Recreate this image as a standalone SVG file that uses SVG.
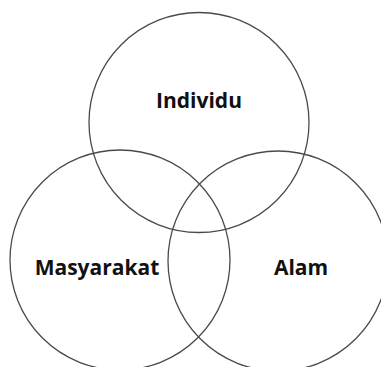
<svg xmlns="http://www.w3.org/2000/svg" width="381" height="367" viewBox="0 0 381 367">
<style>
.c{fill:none;stroke:#4a4a4a;stroke-width:1.3}
.t{font-family:"Open Sans","DejaVu Sans",sans-serif;font-weight:bold;font-size:21px;fill:#111;text-anchor:middle}
</style>
<rect width="381" height="367" fill="#fff"/>
<g id="individu"><circle class="c" cx="199" cy="122.5" r="110"/><text class="t" x="199" y="108">Individu</text></g>
<g id="masyarakat"><circle class="c" cx="120" cy="260" r="110"/><text class="t" x="97" y="275">Masyarakat</text></g>
<g id="alam"><circle class="c" cx="278" cy="261" r="110"/><text class="t" x="301" y="275">Alam</text></g>
<g id="connectors"/>
</svg>
